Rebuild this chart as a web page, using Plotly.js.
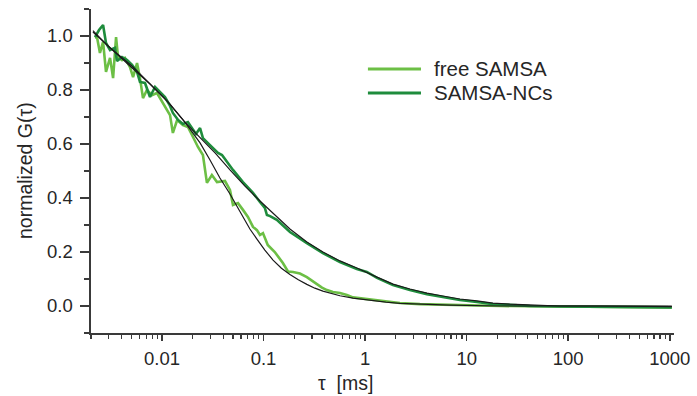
<!DOCTYPE html>
<html>
<head>
<meta charset="utf-8">
<script src="https://cdn.plot.ly/plotly-3.0.1.min.js"></script>
<style>html,body{margin:0;padding:0;background:#fff;}#chart{width:697px;height:396px;}</style>
</head>
<body>
<div id="chart"></div>
<script>
// ---- data ----
const seriesNames = ["free SAMSA", "SAMSA-NCs"];
const xTickVals = [0.01, 0.1, 1, 10, 100, 1000];
const xTickText = ["0.01", "0.1", "1", "10", "100", "1000"];
const yTickVals = [0.0, 0.2, 0.4, 0.6, 0.8, 1.0];
const yTickText = ["0.0", "0.2", "0.4", "0.6", "0.8", "1.0"];

const freeTau = [0.00219,0.00229,0.00245,0.00263,0.00281,0.00308,0.00330,0.00353,0.00369,0.00404,0.00432,0.00484,0.00519,0.00568,0.00607,0.00650,0.00711,0.00797,0.00893,0.01023,0.0112,0.0120,0.0128,0.0141,0.0161,0.0180,0.0202,0.0226,0.0253,0.0277,0.0310,0.0348,0.0417,0.0467,0.0500,0.0560,0.0627,0.0702,0.0787,0.0861,0.0922,0.0987,0.110,0.129,0.155,0.174,0.195,0.228,0.267,0.299,0.335,0.376,0.421,0.482,0.565,0.662,0.759,0.889,1.11,1.50,2.20,3.46,6.84,13.5,21.3,41.9,82.6,205,507,1047];
const freeG   = [0.993,0.996,0.937,0.978,0.867,0.919,0.844,0.996,0.922,0.911,0.919,0.885,0.848,0.900,0.844,0.770,0.800,0.781,0.789,0.752,0.726,0.707,0.641,0.689,0.670,0.663,0.626,0.589,0.559,0.456,0.485,0.459,0.463,0.430,0.374,0.381,0.356,0.330,0.293,0.281,0.263,0.270,0.226,0.200,0.159,0.128,0.126,0.120,0.107,0.094,0.078,0.068,0.059,0.052,0.048,0.041,0.032,0.029,0.024,0.018,0.011,0.007,0.004,0.000,0.000,-0.001,-0.002,-0.003,-0.004,-0.005];

const ncTau = [0.00219,0.00240,0.00263,0.00281,0.00308,0.00344,0.00361,0.00404,0.00453,0.00507,0.00568,0.00607,0.00680,0.00762,0.00854,0.00956,0.0107,0.0120,0.0128,0.0144,0.0161,0.0180,0.0202,0.0216,0.0237,0.0253,0.0297,0.0356,0.0390,0.0436,0.0500,0.0627,0.0734,0.0787,0.0922,0.103,0.108,0.116,0.135,0.182,0.267,0.384,0.565,0.830,1.04,1.31,1.88,2.76,4.06,5.83,8.58,12.6,18.1,26.6,41.9,82.6,205,507,1047];
const ncG   = [0.996,1.022,1.041,0.974,0.948,0.956,0.907,0.922,0.911,0.893,0.867,0.830,0.826,0.774,0.811,0.793,0.774,0.741,0.715,0.689,0.674,0.681,0.656,0.637,0.659,0.622,0.596,0.567,0.559,0.533,0.504,0.459,0.430,0.419,0.385,0.363,0.337,0.333,0.319,0.274,0.233,0.196,0.163,0.137,0.126,0.104,0.078,0.059,0.044,0.033,0.022,0.015,0.007,0.004,0.000,-0.002,-0.004,-0.004,-0.005];

const freeFitTau = [0.00209,0.00300,0.00519,0.00762,0.0112,0.0168,0.0237,0.0297,0.0372,0.0467,0.0586,0.0734,0.0861,0.103,0.124,0.150,0.182,0.220,0.267,0.320,0.384,0.470,0.565,0.759,1.11,1.60,2.20,3.50,6.84,21.3,205,1047];
const freeFitG   = [1.020,0.960,0.885,0.822,0.760,0.681,0.604,0.541,0.474,0.415,0.348,0.285,0.248,0.207,0.170,0.140,0.117,0.097,0.080,0.066,0.055,0.045,0.038,0.029,0.020,0.014,0.010,0.006,0.003,0.000,0.000,0.000];

const ncFitTau = [0.00209,0.00308,0.00484,0.00762,0.0120,0.0168,0.0237,0.0333,0.0467,0.0656,0.0922,0.129,0.182,0.267,0.384,0.565,0.830,1.31,1.88,2.76,4.06,5.83,8.58,12.6,18.1,26.6,41.9,82.6,205,1047];
const ncFitG   = [1.015,0.956,0.889,0.822,0.748,0.681,0.622,0.567,0.504,0.444,0.389,0.337,0.285,0.237,0.200,0.167,0.141,0.107,0.081,0.063,0.048,0.037,0.026,0.019,0.011,0.007,0.004,0.000,0.000,-0.002];

// ---- styling ----
const lightGreen = "#6cbf45";
const darkGreen = "#1e8c3c";
const axisColor = "#3a3a3a";
const textColor = "#262626";
const fontFam = "Liberation Sans, Arial, sans-serif";

const traces = [
  {x: freeTau, y: freeG, mode: "lines", name: seriesNames[0], line: {color: lightGreen, width: 2.6}},
  {x: ncTau, y: ncG, mode: "lines", name: seriesNames[1], line: {color: darkGreen, width: 2.6}},
  {x: freeFitTau, y: freeFitG, mode: "lines", name: "fit", showlegend: false, line: {color: "#1a1a1a", width: 1.2}},
  {x: ncFitTau, y: ncFitG, mode: "lines", name: "fit", showlegend: false, line: {color: "#1a1a1a", width: 1.2}}
];

// manual legend (line samples + labels)
const legY = [0.815, 0.741];
const shapes = [];
const annotations = [];
[lightGreen, darkGreen].forEach((c, i) => {
  shapes.push({type: "line", xref: "paper", yref: "paper", x0: 0.475, x1: 0.566, y0: legY[i], y1: legY[i], line: {color: c, width: 3}});
  annotations.push({xref: "paper", yref: "paper", x: 0.585, y: legY[i], xanchor: "left", yanchor: "middle", showarrow: false, text: seriesNames[i], font: {size: 20.5, color: textColor, family: fontFam}});
});
annotations.push({xref: "paper", yref: "paper", x: (345 - 91) / 583, y: -(383 - 333) / 324, xanchor: "center", yanchor: "middle", showarrow: false, text: "τ  [ms]", font: {size: 19.5, color: textColor, family: fontFam}});
annotations.push({xref: "paper", yref: "paper", x: -(91 - 25) / 583, y: 0.5, xanchor: "center", yanchor: "middle", textangle: -90, showarrow: false, text: "normalized G(τ)", font: {size: 19.5, color: textColor, family: fontFam}});

const layout = {
  width: 697, height: 396,
  margin: {l: 91, r: 23, t: 9, b: 63},
  paper_bgcolor: "#fff", plot_bgcolor: "#fff",
  showlegend: false,
  font: {family: fontFam, size: 18.5, color: textColor},
  xaxis: {
    type: "log", range: [Math.log10(0.002), Math.log10(1100)],
    tickmode: "array", tickvals: xTickVals, ticktext: xTickText,
    ticks: "outside", ticklen: 6, tickwidth: 1.5, tickcolor: axisColor,
    showline: true, linecolor: axisColor, linewidth: 1.6,
    showgrid: false, zeroline: false, ticklabelstandoff: 2,
    minor: {dtick: "D1", ticks: "outside", ticklen: 4, tickwidth: 1.2, tickcolor: axisColor, showgrid: false},
    tickfont: {size: 18.5, color: textColor}
  },
  yaxis: {
    range: [-0.1, 1.1],
    tickmode: "array", tickvals: yTickVals, ticktext: yTickText,
    ticks: "outside", ticklen: 9, tickwidth: 1.5, tickcolor: axisColor,
    showline: true, linecolor: axisColor, linewidth: 1.6,
    showgrid: false, zeroline: false, ticklabelstandoff: 4,
    minor: {tickmode: "linear", tick0: 0, dtick: 0.1, ticks: "outside", ticklen: 5, tickwidth: 1.2, tickcolor: axisColor, showgrid: false},
    tickfont: {size: 18.5, color: textColor}
  },
  shapes: shapes,
  annotations: annotations
};

Plotly.newPlot("chart", traces, layout, {staticPlot: true, displayModeBar: false});
</script>
</body>
</html>
